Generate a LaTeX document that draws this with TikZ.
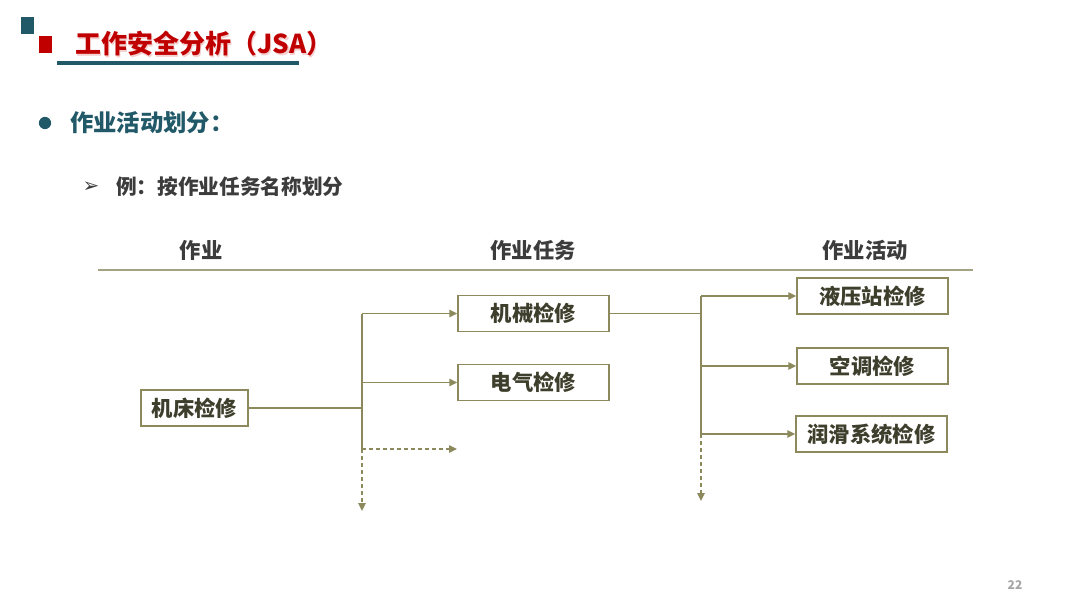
\documentclass[tikz,border=0pt]{standalone}
\usepackage{fontspec}
\setmainfont{Noto Sans CJK SC}
\newfontfamily\dejavu{DejaVu Sans}
\usetikzlibrary{arrows.meta}
\definecolor{titlered}{HTML}{C00000}
\definecolor{teal}{HTML}{215968}
\definecolor{olive}{HTML}{8C8A5C}
\definecolor{rule}{HTML}{A2A284}
\definecolor{boxtext}{HTML}{3E3E2C}
\definecolor{dark}{HTML}{3C3C3C}
\tikzset{
  box/.style={draw=olive, line width=1.1pt, fill=white, inner sep=0pt,
    minimum height=27pt, font=\bfseries\fontsize{16}{19}\selectfont, text=boxtext},
  line/.style={draw=olive, line width=1.1pt},
  arr/.style={line, -{Triangle[length=6pt,width=5.5pt]}},
  dline/.style={line, dash pattern=on 3pt off 2.25pt},
  darr/.style={dline, -{Triangle[length=6pt,width=5.5pt]}},
  header/.style={font=\bfseries\fontsize{16}{19}\selectfont, text=dark},
}
\begin{document}
\begin{tikzpicture}[x=0.75pt, y=-0.75pt]
\fill[white] (0,0) rectangle (1080,608);
\useasboundingbox (0,0) rectangle (1080,608);
% title decoration
\fill[teal] (21,17) rectangle (34,34);
\fill[titlered] (39,36) rectangle (52,53);
\node[anchor=west, inner sep=0pt, text=titlered!18, font=\bfseries\fontsize{19.5}{22}\selectfont] (titleshadow) at (76.5,45.5) {工作安全分析（JSA）};
\node[anchor=west, inner sep=0pt, text=titlered, font=\bfseries\fontsize{19.5}{22}\selectfont] (title) at (75,44) {工作安全分析（JSA）};
\draw[teal, line width=2.4pt] (57,63) -- (299,63);
% bullets
\fill[teal] (45,123) circle[radius=4.6pt];
\node[anchor=west, inner sep=0pt, text=teal, font=\bfseries\fontsize{17.5}{21}\selectfont] (h1) at (70,123) {作业活动划分：};
\node[inner sep=0pt, text=dark, font=\dejavu\fontsize{15}{17}\selectfont] (arrowbullet) at (91,187) {➢};
\node[anchor=west, inner sep=0pt, text=dark, font=\bfseries\fontsize{15.5}{18}\selectfont] (h2) at (116,187) {例：按作业任务名称划分};
% headers
\node[header] (c1) at (201,250) {作业};
\node[header] (c2) at (533,250) {作业任务};
\node[header] (c3) at (865,250) {作业活动};
\draw[rule, line width=1.2pt] (98,270) -- (973,270);
% boxes
\node[box, minimum width=80.25pt] (jc) at (194.5,408) {机床检修};
\node[box, minimum width=113.25pt] (t1) at (533.5,313.5) {机械检修};
\node[box, minimum width=113.25pt] (t2) at (533.5,382.5) {电气检修};
\node[box, minimum width=113.25pt] (a1) at (872.5,296) {液压站检修};
\node[box, minimum width=113.25pt] (a2) at (872.5,366) {空调检修};
\node[box, minimum width=113.25pt] (a3) at (871.5,434) {润滑系统检修};
% left connectors
\coordinate (v1) at (362,0);
\coordinate (v1bot) at (362,449);
\coordinate (v1end) at (362,511);
\coordinate (d1end) at (457,449);
\draw[line] (jc.east) -- (jc.east -| v1);
\draw[line] (v1 |- t1.west) -- (v1bot);
\draw[arr] (v1 |- t1.west) -- (t1.west);
\draw[arr] (v1 |- t2.west) -- (t2.west);
\draw[darr] (v1bot) -- (d1end);
\draw[darr] (v1bot) -- (v1end);
% right connectors
\coordinate (v2) at (701,0);
\coordinate (v2end) at (701,501);
\draw[line] (t1.east) -- (t1.east -| v2);
\draw[line] (v2 |- a1.west) -- (v2 |- a3.west);
\draw[arr] (v2 |- a1.west) -- (a1.west);
\draw[arr] (v2 |- a2.west) -- (a2.west);
\draw[arr] (v2 |- a3.west) -- (a3.west);
\draw[darr] (v2 |- a3.west) -- (v2end);
% page number
\node[text=black!35, font=\bfseries\fontsize{9}{11}\selectfont] (page) at (1015,585) {22};
\end{tikzpicture}
\end{document}
